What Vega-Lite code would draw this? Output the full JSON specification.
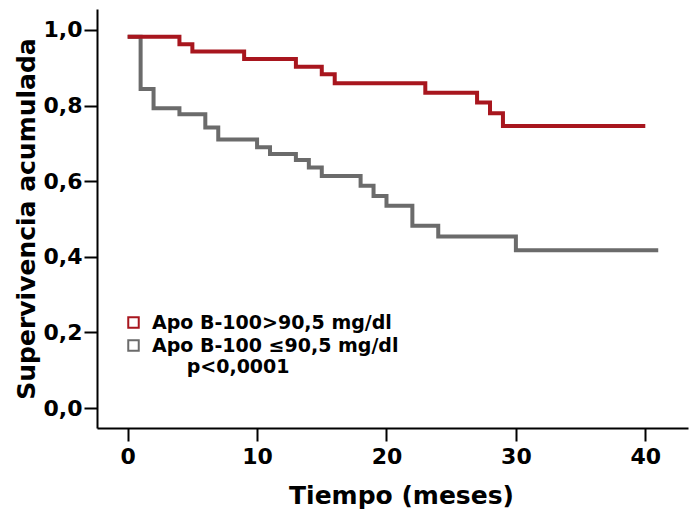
{
  "$schema": "https://vega.github.io/schema/vega-lite/v6.json",
  "autosize": {"type": "none"},
  "width": 591,
  "height": 419,
  "padding": {"left": 97, "top": 9, "right": 2, "bottom": 89},
  "background": "white",
  "config": {
    "view": {"stroke": null},
    "font": "DejaVu Sans",
    "axis": {
      "domainColor": "black",
      "domainWidth": 2,
      "tickColor": "black",
      "tickWidth": 2,
      "tickSize": 13,
      "grid": false,
      "labelFont": "DejaVu Sans",
      "labelFontWeight": "bold",
      "labelFontSize": 22,
      "labelColor": "black",
      "titleFont": "DejaVu Sans",
      "titleFontWeight": "bold",
      "titleFontSize": 25,
      "titleColor": "black"
    }
  },
  "datasets": {
    "km": [
      {"grupo": "Apo B-100 ≤90,5 mg/dl", "t": 0, "s": 0.982},
      {"grupo": "Apo B-100 ≤90,5 mg/dl", "t": 1, "s": 0.844},
      {"grupo": "Apo B-100 ≤90,5 mg/dl", "t": 2, "s": 0.793},
      {"grupo": "Apo B-100 ≤90,5 mg/dl", "t": 4, "s": 0.777},
      {"grupo": "Apo B-100 ≤90,5 mg/dl", "t": 6, "s": 0.742},
      {"grupo": "Apo B-100 ≤90,5 mg/dl", "t": 7, "s": 0.710},
      {"grupo": "Apo B-100 ≤90,5 mg/dl", "t": 10, "s": 0.690},
      {"grupo": "Apo B-100 ≤90,5 mg/dl", "t": 11, "s": 0.672},
      {"grupo": "Apo B-100 ≤90,5 mg/dl", "t": 13, "s": 0.656},
      {"grupo": "Apo B-100 ≤90,5 mg/dl", "t": 14, "s": 0.636},
      {"grupo": "Apo B-100 ≤90,5 mg/dl", "t": 15, "s": 0.614},
      {"grupo": "Apo B-100 ≤90,5 mg/dl", "t": 18, "s": 0.588},
      {"grupo": "Apo B-100 ≤90,5 mg/dl", "t": 19, "s": 0.561},
      {"grupo": "Apo B-100 ≤90,5 mg/dl", "t": 20, "s": 0.535},
      {"grupo": "Apo B-100 ≤90,5 mg/dl", "t": 22, "s": 0.482},
      {"grupo": "Apo B-100 ≤90,5 mg/dl", "t": 24, "s": 0.454},
      {"grupo": "Apo B-100 ≤90,5 mg/dl", "t": 30, "s": 0.417},
      {"grupo": "Apo B-100 ≤90,5 mg/dl", "t": 41, "s": 0.417},
      {"grupo": "Apo B-100>90,5 mg/dl", "t": 0, "s": 0.982},
      {"grupo": "Apo B-100>90,5 mg/dl", "t": 4, "s": 0.962},
      {"grupo": "Apo B-100>90,5 mg/dl", "t": 5, "s": 0.943},
      {"grupo": "Apo B-100>90,5 mg/dl", "t": 9, "s": 0.923},
      {"grupo": "Apo B-100>90,5 mg/dl", "t": 13, "s": 0.903},
      {"grupo": "Apo B-100>90,5 mg/dl", "t": 15, "s": 0.883},
      {"grupo": "Apo B-100>90,5 mg/dl", "t": 16, "s": 0.859},
      {"grupo": "Apo B-100>90,5 mg/dl", "t": 23, "s": 0.834},
      {"grupo": "Apo B-100>90,5 mg/dl", "t": 27, "s": 0.808},
      {"grupo": "Apo B-100>90,5 mg/dl", "t": 28, "s": 0.780},
      {"grupo": "Apo B-100>90,5 mg/dl", "t": 29, "s": 0.746},
      {"grupo": "Apo B-100>90,5 mg/dl", "t": 40, "s": 0.746}
    ],
    "nota": [
      {"texto": "p<0,0001", "t": 4.56, "s": 0.093}
    ]
  },
  "layer": [
    {
      "data": {"name": "km"},
      "mark": {"type": "line", "interpolate": "step-after", "strokeWidth": 4, "strokeCap": "butt", "strokeJoin": "miter"},
      "encoding": {
        "x": {
          "field": "t", "type": "quantitative",
          "scale": {"domain": [-2.37, 43.3], "nice": false, "zero": false},
          "axis": {"values": [0, 10, 20, 30, 40], "title": "Tiempo (meses)", "titlePadding": 16, "labelPadding": 5, "titleX": 304}
        },
        "y": {
          "field": "s", "type": "quantitative",
          "scale": {"domain": [-0.0529, 1.0555], "nice": false, "zero": false},
          "axis": {
            "values": [0, 0.2, 0.4, 0.6, 0.8, 1.0],
            "labelExpr": "replace(format(datum.value, '.1f'), '.', ',')",
            "title": "Supervivencia acumulada",
            "titlePadding": 4,
            "labelPadding": 2
          }
        },
        "color": {
          "field": "grupo", "type": "nominal",
          "scale": {
            "domain": ["Apo B-100>90,5 mg/dl", "Apo B-100 ≤90,5 mg/dl"],
            "range": ["#a8161e", "#6b6b6b"]
          },
          "legend": {
            "title": null,
            "orient": "none",
            "legendX": 27,
            "legendY": 304,
            "symbolType": "square",
            "symbolSize": 110,
            "symbolStrokeWidth": 2,
            "symbolFillColor": "white",
            "labelFont": "DejaVu Sans",
            "labelFontWeight": "bold",
            "labelFontSize": 19,
            "labelColor": "black",
            "labelLimit": 0,
            "labelOffset": 9,
            "rowPadding": 3
          }
        },
        "order": {"field": "t", "type": "quantitative"}
      }
    },
    {
      "data": {"name": "nota"},
      "mark": {"type": "text", "align": "left", "baseline": "alphabetic", "font": "DejaVu Sans", "fontWeight": "bold", "fontSize": 19, "color": "black"},
      "encoding": {
        "x": {"field": "t", "type": "quantitative"},
        "y": {"field": "s", "type": "quantitative"},
        "text": {"field": "texto"}
      }
    }
  ]
}
